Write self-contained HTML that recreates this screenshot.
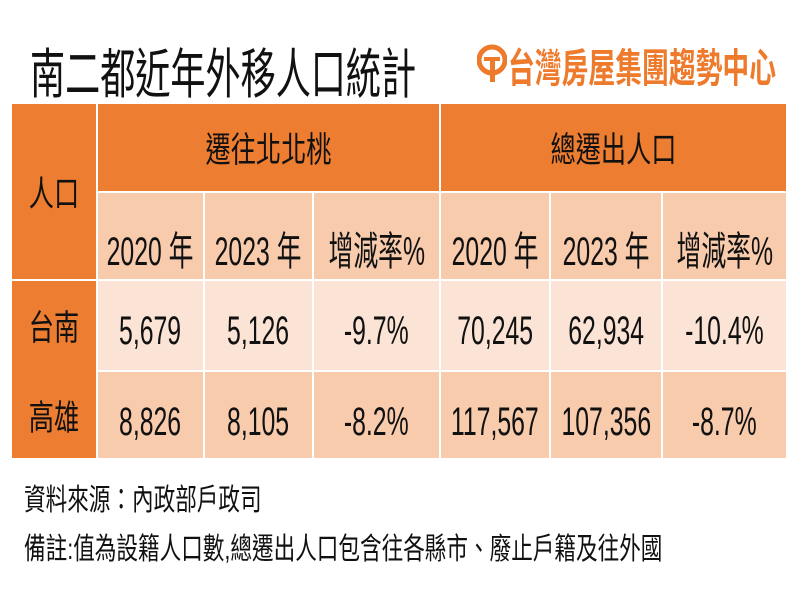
<!DOCTYPE html>
<html><head><meta charset="utf-8"><style>
body{margin:0;background:#fff;width:800px;height:600px;overflow:hidden;position:relative;font-family:"Liberation Sans","Noto Sans CJK TC",sans-serif;}
.a{position:absolute;}
.c{position:absolute;display:flex;align-items:center;justify-content:center;overflow:visible;}
.t{display:inline-block;white-space:nowrap;transform:scaleX(0.62);color:#111;font-size:40px;}
.h{display:inline-block;white-space:nowrap;transform:scaleX(0.72);color:#111;font-size:35px;}
</style></head><body>
<div class="a" style="left:30px;top:30px;width:420px;height:66px;">
 <span style="display:inline-block;font-size:54px;color:#111;transform:scaleX(0.65);transform-origin:0 50%;white-space:nowrap;">南二都近年外移人口統計</span>
</div>
<div class="a" style="left:477px;top:42px;width:30px;height:40px;">
 <svg width="30" height="42"><circle cx="15" cy="18" r="13" fill="none" stroke="#EE7A2C" stroke-width="5"/><rect x="7" y="15" width="16" height="4" fill="#EE7A2C"/><rect x="13" y="15" width="5" height="25" fill="#EE7A2C"/></svg>
</div>
<div class="a" style="left:508px;top:36px;height:50px;">
 <span style="display:inline-block;font-size:40px;font-weight:bold;color:#EE7A2C;transform:scaleX(0.67);transform-origin:0 50%;white-space:nowrap;">台灣房屋集團趨勢中心</span>
</div>
<div class="a" style="left:12px;top:104px;width:774px;height:354px;background:#fff;"></div>
<div class="a" style="left:12px;top:104px;width:84px;height:175px;background:#ED7D31;"></div>
<div class="a" style="left:12px;top:281px;width:84px;height:177px;background:#ED7D31;"></div>
<div class="a" style="left:98px;top:104px;width:341px;height:87px;background:#ED7D31;"></div>
<div class="a" style="left:441px;top:104px;width:345px;height:87px;background:#ED7D31;"></div>
<div class="a" style="left:98px;top:193px;width:105px;height:86px;background:#F8CBAD;"></div>
<div class="a" style="left:205px;top:193px;width:107px;height:86px;background:#F8CBAD;"></div>
<div class="a" style="left:314px;top:193px;width:125px;height:86px;background:#F8CBAD;"></div>
<div class="a" style="left:441px;top:193px;width:108px;height:86px;background:#F8CBAD;"></div>
<div class="a" style="left:551px;top:193px;width:110px;height:86px;background:#F8CBAD;"></div>
<div class="a" style="left:663px;top:193px;width:123px;height:86px;background:#F8CBAD;"></div>
<div class="a" style="left:98px;top:281px;width:105px;height:89px;background:#FBE4D5;"></div>
<div class="a" style="left:205px;top:281px;width:107px;height:89px;background:#FBE4D5;"></div>
<div class="a" style="left:314px;top:281px;width:125px;height:89px;background:#FBE4D5;"></div>
<div class="a" style="left:441px;top:281px;width:108px;height:89px;background:#FBE4D5;"></div>
<div class="a" style="left:551px;top:281px;width:110px;height:89px;background:#FBE4D5;"></div>
<div class="a" style="left:663px;top:281px;width:123px;height:89px;background:#FBE4D5;"></div>
<div class="a" style="left:98px;top:372px;width:105px;height:86px;background:#F8CBAD;"></div>
<div class="a" style="left:205px;top:372px;width:107px;height:86px;background:#F8CBAD;"></div>
<div class="a" style="left:314px;top:372px;width:125px;height:86px;background:#F8CBAD;"></div>
<div class="a" style="left:441px;top:372px;width:108px;height:86px;background:#F8CBAD;"></div>
<div class="a" style="left:551px;top:372px;width:110px;height:86px;background:#F8CBAD;"></div>
<div class="a" style="left:663px;top:372px;width:123px;height:86px;background:#F8CBAD;"></div>
<div class="c" style="left:12px;top:104px;width:84px;height:175px;"><span class="h">人口</span></div>
<div class="c" style="left:12px;top:281px;width:84px;height:89px;"><span class="h">台南</span></div>
<div class="c" style="left:12px;top:372px;width:84px;height:86px;"><span class="h">高雄</span></div>
<div class="c" style="left:98px;top:104px;width:341px;height:87px;"><span class="h">遷往北北桃</span></div>
<div class="c" style="left:441px;top:104px;width:345px;height:87px;"><span class="h">總遷出人口</span></div>
<div class="c" style="left:98px;top:193px;width:105px;height:110px;"><span class="t">2020 年</span></div>
<div class="c" style="left:205px;top:193px;width:107px;height:110px;"><span class="t">2023 年</span></div>
<div class="c" style="left:314px;top:193px;width:125px;height:110px;"><span class="t">增減率%</span></div>
<div class="c" style="left:441px;top:193px;width:108px;height:110px;"><span class="t">2020 年</span></div>
<div class="c" style="left:551px;top:193px;width:110px;height:110px;"><span class="t">2023 年</span></div>
<div class="c" style="left:663px;top:193px;width:123px;height:110px;"><span class="t">增減率%</span></div>
<div class="c" style="left:98px;top:281px;width:105px;height:100px;"><span class="t">5,679</span></div>
<div class="c" style="left:205px;top:281px;width:107px;height:100px;"><span class="t">5,126</span></div>
<div class="c" style="left:314px;top:281px;width:125px;height:100px;"><span class="t">-9.7%</span></div>
<div class="c" style="left:441px;top:281px;width:108px;height:100px;"><span class="t">70,245</span></div>
<div class="c" style="left:551px;top:281px;width:110px;height:100px;"><span class="t">62,934</span></div>
<div class="c" style="left:663px;top:281px;width:123px;height:100px;"><span class="t">-10.4%</span></div>
<div class="c" style="left:98px;top:372px;width:105px;height:100px;"><span class="t">8,826</span></div>
<div class="c" style="left:205px;top:372px;width:107px;height:100px;"><span class="t">8,105</span></div>
<div class="c" style="left:314px;top:372px;width:125px;height:100px;"><span class="t">-8.2%</span></div>
<div class="c" style="left:441px;top:372px;width:108px;height:100px;"><span class="t">117,567</span></div>
<div class="c" style="left:551px;top:372px;width:110px;height:100px;"><span class="t">107,356</span></div>
<div class="c" style="left:663px;top:372px;width:123px;height:100px;"><span class="t">-8.7%</span></div>
<div class="a" style="left:24px;top:475px;height:38px;">
 <span style="display:inline-block;font-size:30px;color:#111;transform:scaleX(0.72);transform-origin:0 50%;white-space:nowrap;">資料來源：內政部戶政司</span>
</div>
<div class="a" style="left:24px;top:524px;height:38px;">
 <span style="display:inline-block;font-size:30px;color:#111;transform:scaleX(0.72);transform-origin:0 50%;white-space:nowrap;">備註:值為設籍人口數,總遷出人口包含往各縣市、廢止戶籍及往外國</span>
</div>
</body></html>
